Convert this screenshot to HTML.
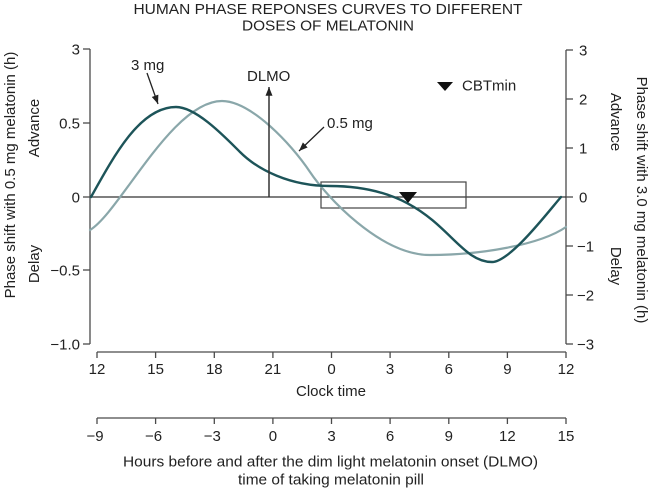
<!DOCTYPE html>
<html>
<head>
<meta charset="utf-8">
<style>
html,body{margin:0;padding:0;background:#fff;}
svg{display:block;}
text{font-family:"Liberation Sans",Arial,sans-serif;font-size:15px;fill:#222;}
</style>
</head>
<body>
<svg width="650" height="488" viewBox="0 0 650 488" xmlns="http://www.w3.org/2000/svg">
<defs>
<marker id="ah" viewBox="0 0 10 8" refX="10" refY="4" markerWidth="9" markerHeight="7" markerUnits="userSpaceOnUse" orient="auto">
<path d="M0,0 L10,4 L0,8 z" fill="#222"/>
</marker>
</defs>

<!-- Title -->
<text x="328" y="14" text-anchor="middle" textLength="389" lengthAdjust="spacingAndGlyphs">HUMAN PHASE REPONSES CURVES TO DIFFERENT</text>
<text x="328" y="30.5" text-anchor="middle" textLength="172" lengthAdjust="spacingAndGlyphs">DOSES OF MELATONIN</text>

<g stroke="#4a4a4a" stroke-width="1.3" fill="none">
<!-- Left axis -->
<line x1="90" y1="49" x2="90" y2="344"/>
<line x1="83" y1="49" x2="90" y2="49"/>
<line x1="83" y1="123" x2="90" y2="123"/>
<line x1="83" y1="197" x2="90" y2="197"/>
<line x1="83" y1="270" x2="90" y2="270"/>
<line x1="83" y1="344" x2="90" y2="344"/>
<!-- Right axis -->
<line x1="566" y1="50" x2="566" y2="344"/>
<line x1="566" y1="50" x2="573" y2="50"/>
<line x1="566" y1="99" x2="573" y2="99"/>
<line x1="566" y1="148" x2="573" y2="148"/>
<line x1="566" y1="197" x2="573" y2="197"/>
<line x1="566" y1="246" x2="573" y2="246"/>
<line x1="566" y1="295" x2="573" y2="295"/>
<line x1="566" y1="344" x2="573" y2="344"/>
<!-- zero line -->
<line x1="90" y1="197" x2="566" y2="197" stroke="#333"/>
<!-- bottom axis 1 -->
<line x1="97" y1="352" x2="566" y2="352"/>
<line x1="97" y1="352" x2="97" y2="358"/>
<line x1="155.6" y1="352" x2="155.6" y2="358"/>
<line x1="214.3" y1="352" x2="214.3" y2="358"/>
<line x1="272.9" y1="352" x2="272.9" y2="358"/>
<line x1="331.5" y1="352" x2="331.5" y2="358"/>
<line x1="390.1" y1="352" x2="390.1" y2="358"/>
<line x1="448.8" y1="352" x2="448.8" y2="358"/>
<line x1="507.4" y1="352" x2="507.4" y2="358"/>
<line x1="566" y1="352" x2="566" y2="358"/>
<!-- bottom axis 2 -->
<line x1="97" y1="418" x2="566" y2="418"/>
<line x1="97" y1="418" x2="97" y2="424"/>
<line x1="155.6" y1="418" x2="155.6" y2="424"/>
<line x1="214.3" y1="418" x2="214.3" y2="424"/>
<line x1="272.9" y1="418" x2="272.9" y2="424"/>
<line x1="331.5" y1="418" x2="331.5" y2="424"/>
<line x1="390.1" y1="418" x2="390.1" y2="424"/>
<line x1="448.8" y1="418" x2="448.8" y2="424"/>
<line x1="507.4" y1="418" x2="507.4" y2="424"/>
<line x1="566" y1="418" x2="566" y2="424"/>
<!-- box -->
<rect x="321" y="182" width="145" height="26" stroke="#444" stroke-width="1.2"/>
</g>

<!-- Left tick labels -->
<g text-anchor="end">
<text x="80" y="54.5">3</text>
<text x="80" y="128.5">0.5</text>
<text x="80" y="202.5">0</text>
<text x="80" y="275.5">−0.5</text>
<text x="80" y="349.5">−1.0</text>
</g>
<!-- Right tick labels -->
<g>
<text x="579" y="55.5">3</text>
<text x="579" y="104.5">2</text>
<text x="579" y="153.5">1</text>
<text x="579" y="202.5">0</text>
<text x="577" y="251.5">−1</text>
<text x="577" y="300.5">−2</text>
<text x="577" y="349.5">−3</text>
</g>

<!-- Bottom labels -->
<g text-anchor="middle">
<text x="97" y="374">12</text>
<text x="155.6" y="374">15</text>
<text x="214.3" y="374">18</text>
<text x="272.9" y="374">21</text>
<text x="331.5" y="374">0</text>
<text x="390.1" y="374">3</text>
<text x="448.8" y="374">6</text>
<text x="507.4" y="374">9</text>
<text x="566" y="374">12</text>
<text x="331" y="396">Clock time</text>
<text x="95" y="441">−9</text>
<text x="153.6" y="441">−6</text>
<text x="212.3" y="441">−3</text>
<text x="272.9" y="441">0</text>
<text x="331.5" y="441">3</text>
<text x="390.1" y="441">6</text>
<text x="448.8" y="441">9</text>
<text x="507.4" y="441">12</text>
<text x="566" y="441">15</text>
<text x="330.5" y="466.5" textLength="415" lengthAdjust="spacingAndGlyphs">Hours before and after the dim light melatonin onset (DLMO)</text>
<text x="331" y="484.5" textLength="186" lengthAdjust="spacingAndGlyphs">time of taking melatonin pill</text>
</g>

<!-- Rotated axis titles -->
<text transform="translate(15,175) rotate(-90)" text-anchor="middle">Phase shift with 0.5 mg melatonin (h)</text>
<text transform="translate(39,128) rotate(-90)" text-anchor="middle">Advance</text>
<text transform="translate(39,264) rotate(-90)" text-anchor="middle">Delay</text>
<text transform="translate(637,200) rotate(90)" text-anchor="middle">Phase shift with 3.0 mg melatonin (h)</text>
<text transform="translate(611,122) rotate(90)" text-anchor="middle">Advance</text>
<text transform="translate(611,266) rotate(90)" text-anchor="middle">Delay</text>

<!-- 0.5 mg curve -->
<path fill="none" stroke="#8aa7aa" stroke-width="2.2" stroke-linecap="round"
d="M90,230 C120,212 172,101 222,101 C250,101 290,142 310,172 C326,196 380,255 430,255 C480,255 540,245 566,227"/>
<!-- 3 mg curve -->
<path fill="none" stroke="#1d5459" stroke-width="2.4" stroke-linecap="round"
d="M91,197 C116,152 141,107 176,107 C196,107 224,136 240,152 C258,170 290,186 330,186 C440,186 451,262 492,262 C510,262 548,212 561,197"/>

<!-- CBTmin marker on box -->
<polygon points="399,192 417,192 408,203" fill="#111"/>

<!-- DLMO arrow -->
<line x1="269" y1="197" x2="269" y2="87" stroke="#333" stroke-width="1.5" marker-end="url(#ah)"/>
<text x="247" y="81">DLMO</text>

<!-- 3 mg label -->
<text x="131" y="70">3 mg</text>
<line x1="147" y1="73" x2="158" y2="104" stroke="#222" stroke-width="1.3" marker-end="url(#ah)"/>

<!-- 0.5 mg label -->
<text x="327" y="128">0.5 mg</text>
<line x1="324" y1="127" x2="299" y2="151" stroke="#222" stroke-width="1.3" marker-end="url(#ah)"/>

<!-- legend -->
<polygon points="437,82 453,82 445,91" fill="#111"/>
<text x="462" y="90.5">CBTmin</text>
</svg>
</body>
</html>
